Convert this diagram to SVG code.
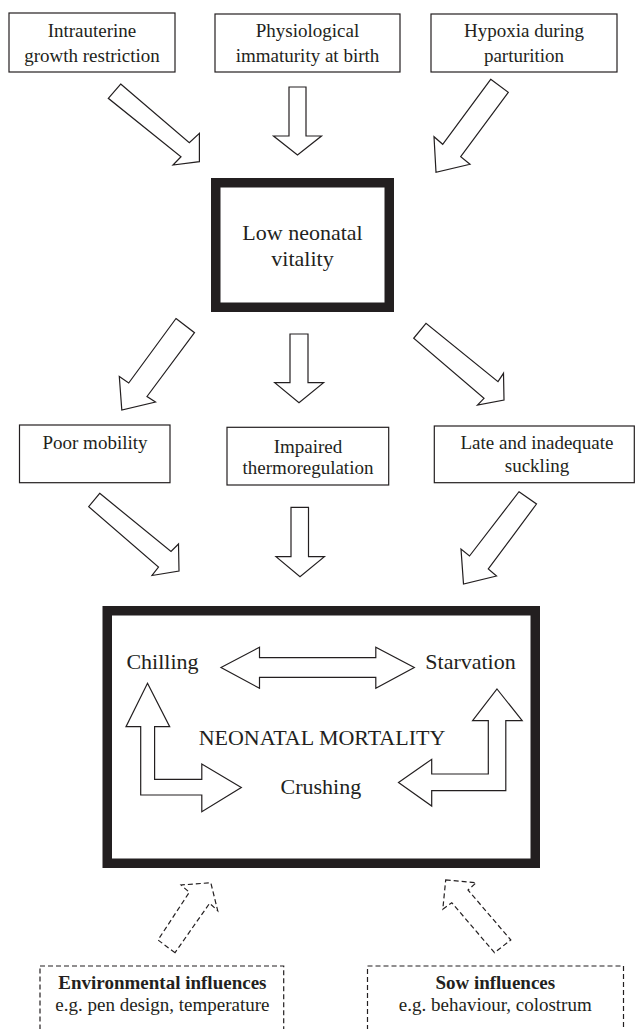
<svg xmlns="http://www.w3.org/2000/svg" width="635" height="1029" viewBox="0 0 635 1029">
<style>
.box{fill:#fff;stroke:#231f20;stroke-width:1.2}
.thick{fill:#fff;stroke:#231f20;stroke-width:9.5}
.dbox{fill:#fff;stroke:#231f20;stroke-width:1.2;stroke-dasharray:5 3}
.arrow{fill:#fff;stroke:#231f20;stroke-width:1.2;stroke-linejoin:miter}
.darrow{fill:#fff;stroke:#231f20;stroke-width:1.2;stroke-dasharray:5 3}
.t{font-family:"Liberation Serif","Times New Roman",serif;fill:#231f20;text-anchor:middle;font-size:19px}
.big{font-size:22px}
.b{font-weight:bold}
</style>
<rect width="635" height="1029" fill="#fff"/>
<g id="connectors">
  <polygon class="arrow" points="120.7,84 189.3,142.7 199.4,133.3 199.4,161.7 173,165 181,156.7 108.3,98.3"/>
  <polygon class="arrow" points="289,87 306,87 306,136 321.5,136 297.5,155 273.5,136 289,136"/>
  <polygon class="arrow" points="490.7,79.3 508.3,92.3 460.7,156.7 470,164.3 436,172.3 434,136.7 442.7,144.3"/>
  <polygon class="arrow" points="176,318.5 194.5,332.7 147,396.5 155.5,402 121.8,410 119.3,376.5 128.7,383"/>
  <polygon class="arrow" points="290,334 308,334 308,382.7 323.6,382.7 299,402.7 274.7,382.7 290,382.7"/>
  <polygon class="arrow" points="426,323.3 413.7,338.3 484,398.3 477.5,405 504,400 503.5,373.3 498,381.7"/>
  <polygon class="arrow" points="99.7,493.3 171,551.5 178.5,544 179,571 152,575.5 158.5,567 88.7,506.7"/>
  <polygon class="arrow" points="291,507.3 308.5,507.3 308.5,556.7 324.4,556.7 300,576.7 276,556.7 291,556.7"/>
  <polygon class="arrow" points="519,491.7 536.5,504 488.3,569 496.5,576 463.5,584 461,549 469.5,556"/>
  <polygon class="darrow" points="175,952.7 158,940 189.3,892.3 181.1,885 210.8,882.7 217.7,910.7 209.6,903.3"/>
  <polygon class="darrow" points="445.7,880 476.2,882.7 468,890 510.8,940 494.5,952.7 451.8,902.7 442.8,909.3"/>
</g>
<g id="n-iugr">
  <rect class="box" x="9" y="13" width="166" height="59"/>
  <text class="t" x="92" y="37.3">Intrauterine</text>
  <text class="t" x="92" y="62">growth restriction</text>
</g>
<g id="n-immaturity">
  <rect class="box" x="215" y="14" width="185" height="58"/>
  <text class="t" x="307.5" y="37.3">Physiological</text>
  <text class="t" x="307.5" y="62">immaturity at birth</text>
</g>
<g id="n-hypoxia">
  <rect class="box" x="431" y="14" width="186" height="58"/>
  <text class="t" x="524" y="37.3">Hypoxia during</text>
  <text class="t" x="524" y="62">parturition</text>
</g>
<g id="n-vitality">
  <rect class="thick" x="215.75" y="182.75" width="173.5" height="124.5"/>
  <text class="t big" x="302.5" y="240">Low neonatal</text>
  <text class="t big" x="302.5" y="266">vitality</text>
</g>
<g id="n-mobility">
  <rect class="box" x="19.5" y="425" width="150.5" height="57.7"/>
  <text class="t" x="95" y="449.3">Poor mobility</text>
</g>
<g id="n-thermo">
  <rect class="box" x="227" y="427.3" width="161.7" height="57.7"/>
  <text class="t" x="308" y="452.7">Impaired</text>
  <text class="t" x="308" y="474">thermoregulation</text>
</g>
<g id="n-suckling">
  <rect class="box" x="434.3" y="426" width="200" height="56.7"/>
  <text class="t" x="537" y="449.3">Late and inadequate</text>
  <text class="t" x="537" y="471.7">suckling</text>
</g>
<g id="n-mortality">
  <rect class="thick" x="107.25" y="610.75" width="428" height="252.5"/>
  <text class="t big" x="322" y="745">NEONATAL MORTALITY</text>
  <g id="n-chilling"><text class="t big" x="162.5" y="669">Chilling</text></g>
  <g id="n-starvation"><text class="t big" x="470.5" y="669">Starvation</text></g>
  <g id="n-crushing"><text class="t big" x="320.8" y="794">Crushing</text></g>
  <polygon class="arrow" points="221,667.5 259.5,647.3 259.5,657.7 375.8,657.7 375.8,647.3 414.3,667.5 375.8,688.3 375.8,677.3 259.5,677.3 259.5,688.3"/>
  <polygon class="arrow" points="147.5,683.3 169.7,726.7 154.6,726.7 154.6,779.3 201.8,779.3 201.8,764 241.3,787.5 201.8,811.7 201.8,795 140.7,795 140.7,726.7 126,726.7"/>
  <polygon class="arrow" points="497,689 522.2,720.7 505.8,720.7 505.8,790.7 431.7,790.7 431.7,806 398.5,782.5 431.7,759.3 431.7,774 488.3,774 488.3,720.7 472.6,720.7"/>
</g>
<g id="n-environment">
  <rect class="dbox" x="40" y="966" width="243.7" height="80"/>
  <text class="t b" x="162.4" y="989.3">Environmental influences</text>
  <text class="t" x="162.4" y="1010.7">e.g. pen design, temperature</text>
</g>
<g id="n-sow">
  <rect class="dbox" x="367.5" y="966" width="256" height="80"/>
  <text class="t b" x="495.3" y="989.3">Sow influences</text>
  <text class="t" x="495.3" y="1010.7">e.g. behaviour, colostrum</text>
</g>
</svg>
